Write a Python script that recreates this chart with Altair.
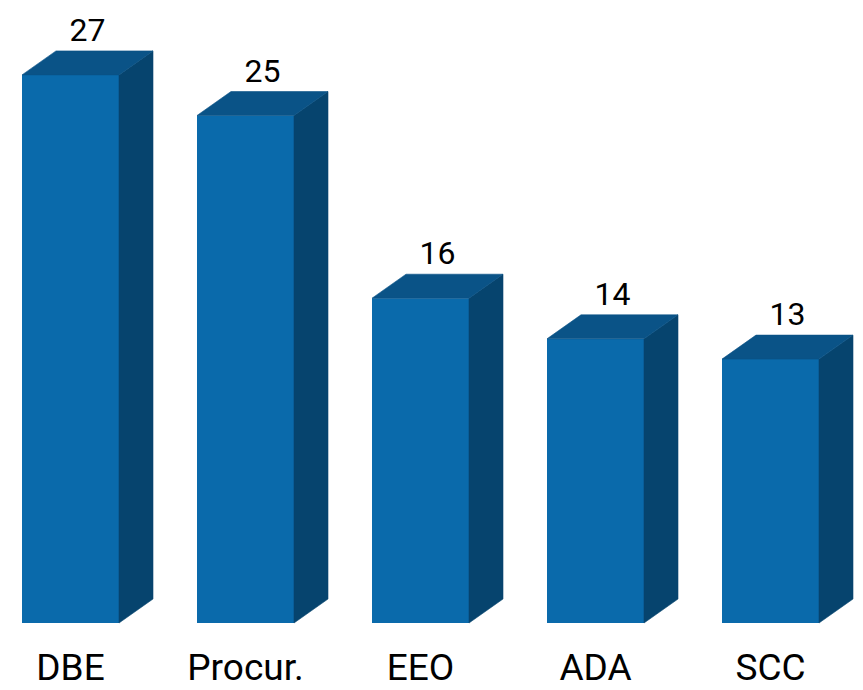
import altair as alt
import pandas as pd

# ---- data ----
categories = ["DBE", "Procur.", "EEO", "ADA", "SCC"]
values = [27, 25, 16, 14, 13]

# ---- styling / geometry (in scale units) ----
FRONT_COLOR = "#0a6aab"
TOP_COLOR = "#0a5387"
SIDE_COLOR = "#06446e"

W, H = 847, 682
SLOT_PX = 175.0
PX_PER_UNIT = 20.3
BASE_PX = 615.0
FRONT_W = 97 / SLOT_PX
DX = 34 / SLOT_PX
DY = 24 / PX_PER_UNIT

xs = alt.Scale(domain=[-14 / SLOT_PX, (W - 14) / SLOT_PX], nice=False, zero=False)
ys = alt.Scale(domain=[-(H - BASE_PX) / PX_PER_UNIT, BASE_PX / PX_PER_UNIT], nice=False, zero=False)

bars = pd.DataFrame({"cat": categories, "value": values, "slot": list(range(len(categories)))})
bars["left"] = bars["slot"].astype(float)
bars["right"] = bars["left"] + FRONT_W
bars["lab_x"] = bars["left"] + (FRONT_W + DX) / 2
bars["cat_x"] = bars["left"] + FRONT_W / 2
bars["top_y"] = bars["value"] + DY
bars["zero"] = 0.0

side_rows, top_rows = [], []
for rec in bars.to_dict("records"):
    c, v, lft, rgt = rec["cat"], float(rec["value"]), rec["left"], rec["right"]
    side_rows.append({"cat": c, "x": rgt, "y": 0.0, "y2": v})
    side_rows.append({"cat": c, "x": rgt + DX, "y": DY, "y2": v + DY})
    top_rows.append({"cat": c, "y": v, "x": lft, "x2": rgt})
    top_rows.append({"cat": c, "y": v + DY, "x": lft + DX, "x2": rgt + DX})
side = pd.DataFrame(side_rows)
top = pd.DataFrame(top_rows)

front = alt.Chart(bars).mark_rect(color=FRONT_COLOR).encode(
    x=alt.X("left:Q", scale=xs, axis=None),
    x2="right:Q",
    y=alt.Y("zero:Q", scale=ys, axis=None),
    y2="value:Q",
)

side_face = alt.Chart(side).mark_area(
    orient="vertical", color=SIDE_COLOR, stroke=SIDE_COLOR, strokeWidth=0.6
).encode(
    x=alt.X("x:Q", scale=xs, axis=None),
    y=alt.Y("y:Q", scale=ys, axis=None, stack=None),
    y2="y2:Q",
    detail="cat:N",
)

top_face = alt.Chart(top).mark_area(
    orient="horizontal", color=TOP_COLOR, stroke=TOP_COLOR, strokeWidth=0.6
).encode(
    y=alt.Y("y:Q", scale=ys, axis=None),
    x=alt.X("x:Q", scale=xs, axis=None, stack=None),
    x2="x2:Q",
    detail="cat:N",
)

value_labels = alt.Chart(bars).mark_text(
    font="Roboto", fontSize=32, color="black", baseline="alphabetic", dy=-10
).encode(
    x=alt.X("lab_x:Q", scale=xs, axis=None),
    y=alt.Y("top_y:Q", scale=ys, axis=None),
    text=alt.Text("value:Q"),
)

cat_labels = alt.Chart(bars).mark_text(
    font="Roboto", fontSize=37, color="black", baseline="alphabetic", dy=57
).encode(
    x=alt.X("cat_x:Q", scale=xs, axis=None),
    y=alt.Y("zero:Q", scale=ys, axis=None),
    text="cat:N",
)

chart = alt.layer(front, side_face, top_face, value_labels, cat_labels).properties(
    width=W, height=H, padding=0, autosize=alt.AutoSizeParams(type="none"), background="white"
).configure_view(stroke=None)

chart.save("out.html", embed_options={"renderer": "svg", "actions": False})
